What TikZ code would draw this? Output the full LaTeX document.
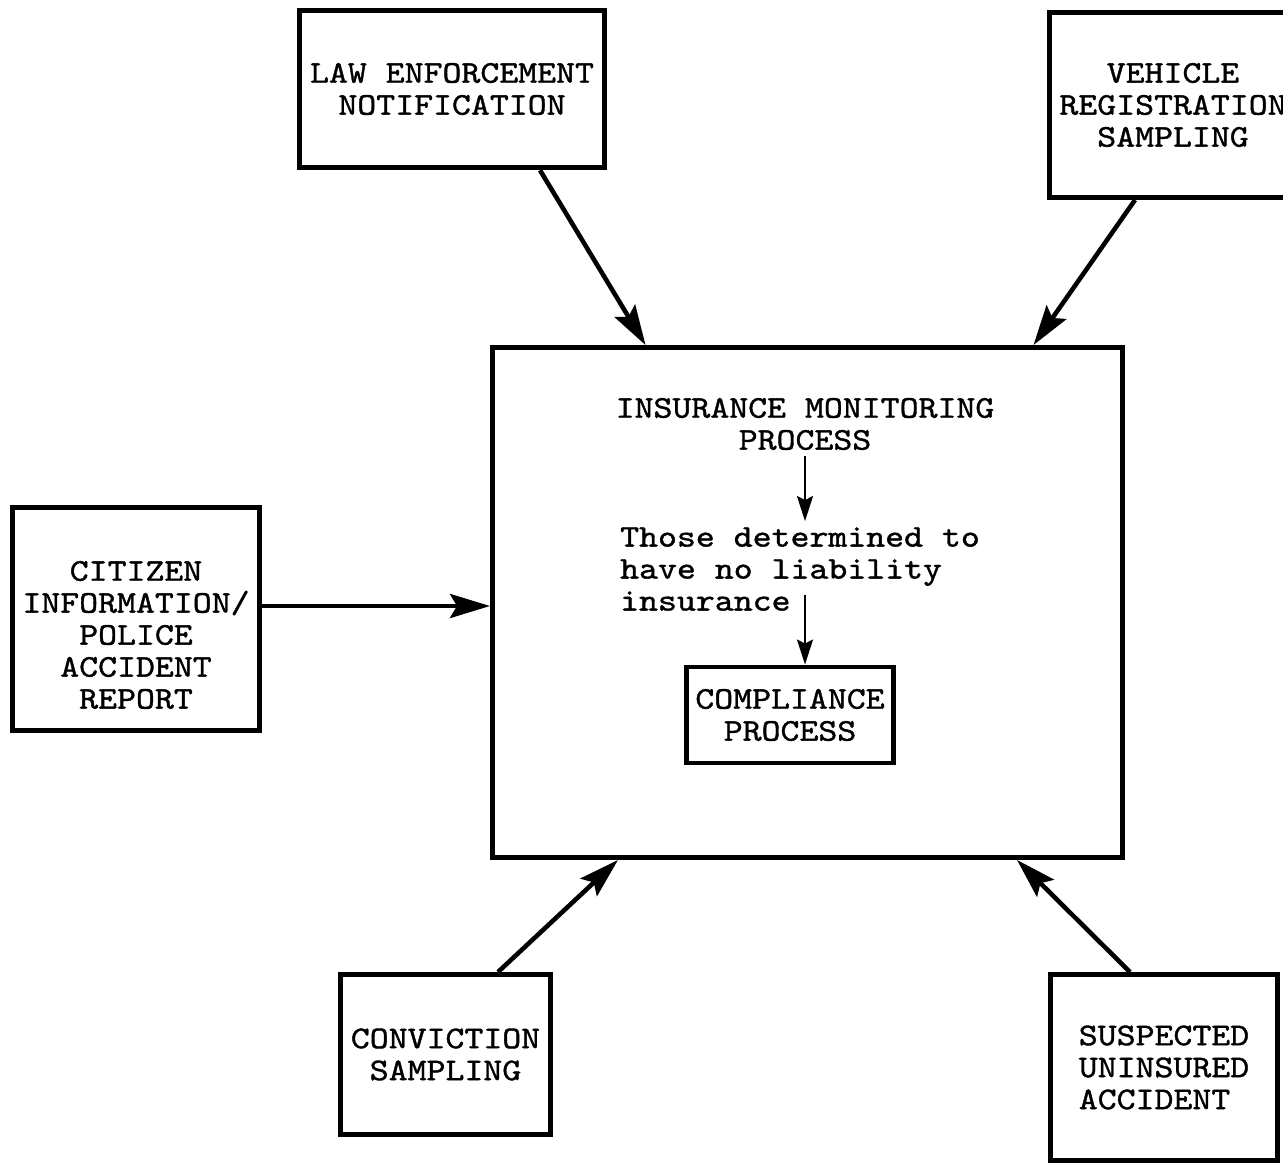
\documentclass[tikz,border=0pt]{standalone}
\usepackage{fontspec}
\newfontfamily\typew{lmmono10-regular.otf}[FakeStretch=1.14,FakeBold=1.2]
\usetikzlibrary{arrows.meta}

\begin{document}
\begin{tikzpicture}[>={Stealth[length=0.8cm,width=0.48cm,inset=0.14cm]},
  font=\typew\fontsize{18}{18.2}\selectfont,
  box/.style={draw,line width=2.8pt,align=center,inner sep=0pt},
  flow/.style={->,line width=2.6pt},
  step down/.style={-{Stealth[length=0.5cm,width=0.32cm,inset=0.08cm]},line width=1.2pt}]
\useasboundingbox (0,0) rectangle (25.66,-23.32);
% outer sources
\node[box,minimum width=6.1cm,minimum height=3.15cm] (law) at (9.04,-1.78) {LAW ENFORCEMENT\\NOTIFICATION};
\node[box,minimum width=4.95cm,minimum height=3.7cm] (veh) at (23.46,-2.1) {VEHICLE\\REGISTRATION\\SAMPLING};
\node[box,minimum width=4.95cm,minimum height=4.47cm] (cit) at (2.72,-12.38) {};
\node[align=center] (citt) at (2.72,-12.7) {CITIZEN\\INFORMATION/\\POLICE\\ACCIDENT\\REPORT};
\node[box,minimum width=4.2cm,minimum height=3.2cm] (conv) at (8.91,-21.09) {CONVICTION\\SAMPLING};
\node[box,minimum width=4.55cm,minimum height=3.72cm,align=left] (susp) at (23.28,-21.35) {SUSPECTED\\UNINSURED\\ACCIDENT};
% main process
\node[box,minimum width=12.6cm,minimum height=10.2cm] (main) at (16.15,-12.05) {};
\node[align=center] (imp) at (16.1,-8.48) {INSURANCE MONITORING\\PROCESS};
\node[align=left] (thd) at (16.0,-11.38) {Those determined to\\have no liability\\insurance};
\node[box,minimum width=4.15cm,minimum height=1.92cm] (comp) at (15.8,-14.3) {COMPLIANCE\\PROCESS};
\coordinate (ins) at (16.1,-11.9);
\draw[step down] (imp.south) -- (imp.south |- thd.north);
\draw[step down] (ins) -- (ins |- comp.north);
% inputs
\draw[flow] ([xshift=1.76cm]law.south) -- ([xshift=-3.24cm]main.north);
\draw[flow] ([xshift=-0.76cm]veh.south) -- ([xshift=4.52cm]main.north);
\draw[flow] ([yshift=0.26cm]cit.east) -- ([yshift=0.26cm]cit.east -| main.west);
\draw[flow] ([xshift=1.05cm]conv.north) -- ([xshift=-3.79cm]main.south);
\draw[flow] ([xshift=-0.68cm]susp.north) -- ([xshift=4.19cm]main.south);
\end{tikzpicture}
\end{document}
